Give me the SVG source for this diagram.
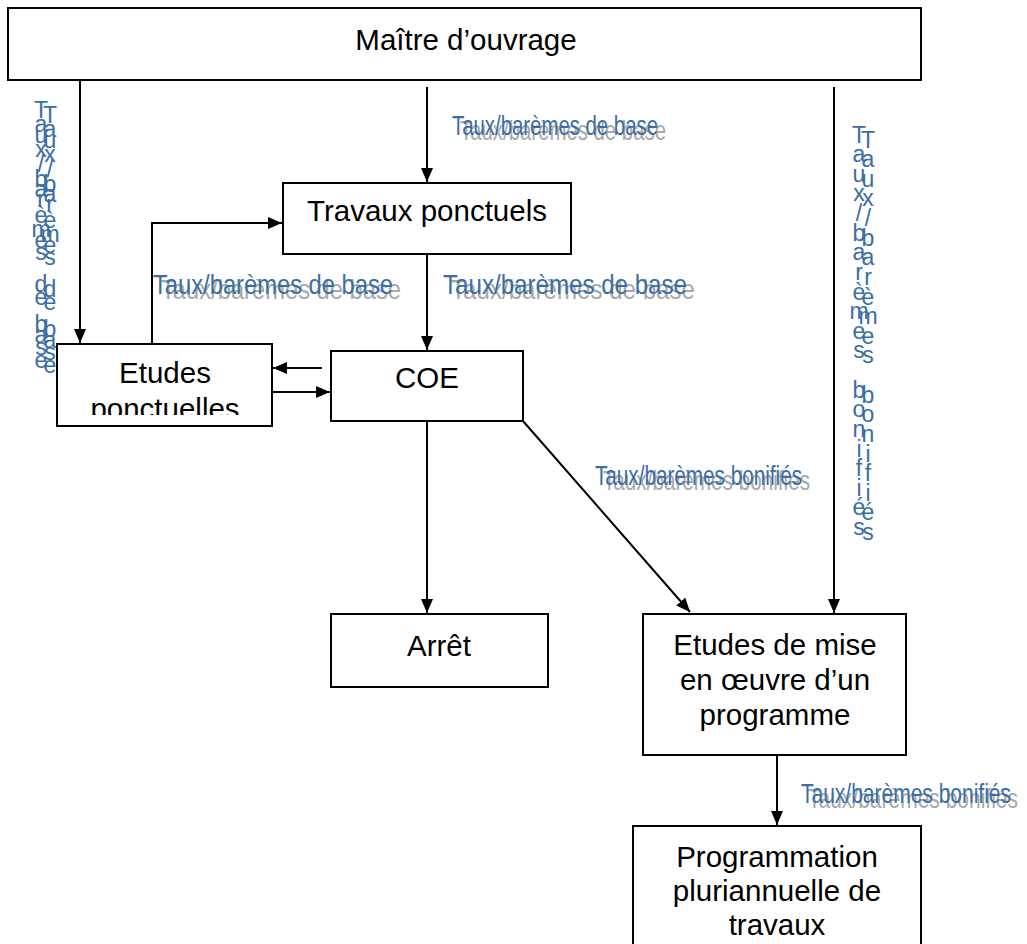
<svg xmlns="http://www.w3.org/2000/svg" width="1027" height="944" viewBox="0 0 1027 944">
<style>
.box{fill:#fff;stroke:#000;stroke-width:2}
.t{font-family:"Liberation Sans",Arial,sans-serif;font-size:29.5px;text-anchor:middle;fill:#000}
.lbl{font-family:"Liberation Sans",Arial,sans-serif;font-size:28px;fill:#3a6ea5}
.sh{fill:#a9a9a9}
.vl{font-family:"Liberation Sans",Arial,sans-serif;font-size:23px;text-anchor:middle;fill:#3a6ea5}
.conn line,.conn polyline{stroke:#000;stroke-width:2;fill:none}
</style>
<defs>
<marker id="ah" markerUnits="userSpaceOnUse" markerWidth="14" markerHeight="12" refX="14" refY="6" orient="auto">
<path d="M0,0 L14,6 L0,12 z" fill="#000"/>
</marker>
<clipPath id="clipEP"><rect x="57" y="345" width="215" height="70"/></clipPath>
</defs>
<rect width="1027" height="944" fill="#fff"/>

<g id="labels">
<text class="lbl sh" x="460" y="140" textLength="206" lengthAdjust="spacingAndGlyphs">Taux/barèmes de base</text>
<text class="lbl" x="452" y="135" textLength="206" lengthAdjust="spacingAndGlyphs">Taux/barèmes de base</text>
<text class="lbl sh" x="161" y="299" textLength="240" lengthAdjust="spacingAndGlyphs">Taux/barèmes de base</text>
<text class="lbl" x="153" y="294" textLength="240" lengthAdjust="spacingAndGlyphs">Taux/barèmes de base</text>
<text class="lbl sh" x="451" y="299" textLength="244" lengthAdjust="spacingAndGlyphs">Taux/barèmes de base</text>
<text class="lbl" x="443" y="294" textLength="244" lengthAdjust="spacingAndGlyphs">Taux/barèmes de base</text>
<text class="lbl sh" x="603" y="490" textLength="207" lengthAdjust="spacingAndGlyphs">Taux/barèmes bonifiés</text>
<text class="lbl" x="595" y="485" textLength="207" lengthAdjust="spacingAndGlyphs">Taux/barèmes bonifiés</text>
<text class="lbl sh" transform="translate(808,808) scale(0.75,1)" x="0" y="0">Taux/barèmes bonifiés</text>
<text class="lbl" transform="translate(801,803) scale(0.75,1)" x="0" y="0">Taux/barèmes bonifiés</text>

<text class="vl sh"><tspan x="50" y="123">T</tspan><tspan x="50" y="137">a</tspan><tspan x="50" y="148">u</tspan><tspan x="50" y="162">x</tspan><tspan x="50" y="177">/</tspan><tspan x="50" y="192">b</tspan><tspan x="50" y="202">a</tspan><tspan x="50" y="212">r</tspan><tspan x="50" y="228">è</tspan><tspan x="50" y="242">m</tspan><tspan x="50" y="253">e</tspan><tspan x="50" y="265">s</tspan><tspan x="50" y="297">d</tspan><tspan x="50" y="310">e</tspan><tspan x="50" y="337">b</tspan><tspan x="50" y="348">a</tspan><tspan x="50" y="360">s</tspan><tspan x="50" y="373">e</tspan></text>
<text class="vl"><tspan x="41" y="118">T</tspan><tspan x="41" y="132">a</tspan><tspan x="41" y="143">u</tspan><tspan x="41" y="157">x</tspan><tspan x="41" y="172">/</tspan><tspan x="41" y="187">b</tspan><tspan x="41" y="197">a</tspan><tspan x="41" y="207">r</tspan><tspan x="41" y="223">è</tspan><tspan x="41" y="237">m</tspan><tspan x="41" y="248">e</tspan><tspan x="41" y="260">s</tspan><tspan x="41" y="292">d</tspan><tspan x="41" y="305">e</tspan><tspan x="41" y="332">b</tspan><tspan x="41" y="343">a</tspan><tspan x="41" y="355">s</tspan><tspan x="41" y="368">e</tspan></text>

<text class="vl sh"><tspan x="868" y="148">T</tspan><tspan x="868" y="167">a</tspan><tspan x="868" y="187">u</tspan><tspan x="868" y="206">x</tspan><tspan x="868" y="226">/</tspan><tspan x="868" y="246">b</tspan><tspan x="868" y="265">a</tspan><tspan x="868" y="285">r</tspan><tspan x="868" y="305">è</tspan><tspan x="868" y="324">m</tspan><tspan x="868" y="344">e</tspan><tspan x="868" y="363">s</tspan><tspan x="868" y="403">b</tspan><tspan x="868" y="422">o</tspan><tspan x="868" y="442">n</tspan><tspan x="868" y="462">i</tspan><tspan x="868" y="481">f</tspan><tspan x="868" y="501">i</tspan><tspan x="868" y="520">é</tspan><tspan x="868" y="540">s</tspan></text>
<text class="vl"><tspan x="859" y="143">T</tspan><tspan x="859" y="162">a</tspan><tspan x="859" y="182">u</tspan><tspan x="859" y="201">x</tspan><tspan x="859" y="221">/</tspan><tspan x="859" y="241">b</tspan><tspan x="859" y="260">a</tspan><tspan x="859" y="280">r</tspan><tspan x="859" y="300">è</tspan><tspan x="859" y="319">m</tspan><tspan x="859" y="339">e</tspan><tspan x="859" y="358">s</tspan><tspan x="859" y="398">b</tspan><tspan x="859" y="417">o</tspan><tspan x="859" y="437">n</tspan><tspan x="859" y="457">i</tspan><tspan x="859" y="476">f</tspan><tspan x="859" y="496">i</tspan><tspan x="859" y="515">é</tspan><tspan x="859" y="535">s</tspan></text>
</g>

<g class="conn" id="connectors">
<line x1="80" y1="80" x2="80" y2="343" marker-end="url(#ah)"/>
<line x1="427" y1="87" x2="427" y2="182" marker-end="url(#ah)"/>
<line x1="834" y1="87" x2="834" y2="613" marker-end="url(#ah)"/>
<polyline points="152,344 152,223 282,223" marker-end="url(#ah)"/>
<line x1="427" y1="255" x2="427" y2="350" marker-end="url(#ah)"/>
<line x1="322" y1="368" x2="273" y2="368" marker-end="url(#ah)"/>
<line x1="273" y1="392" x2="330" y2="392" marker-end="url(#ah)"/>
<line x1="427" y1="422" x2="427" y2="613" marker-end="url(#ah)"/>
<line x1="523" y1="421" x2="690" y2="612" marker-end="url(#ah)"/>
<line x1="777" y1="755" x2="777" y2="825" marker-end="url(#ah)"/>
</g>

<g id="n-maitre">
<rect class="box" x="8" y="8" width="913" height="72"/>
<text class="t" x="466" y="50">Maître d’ouvrage</text>
</g>
<g id="n-travaux">
<rect class="box" x="283" y="183" width="288" height="71"/>
<text class="t" x="427" y="221">Travaux ponctuels</text>
</g>
<g id="n-etudes">
<rect class="box" x="57" y="344" width="215" height="82"/>
<text class="t" clip-path="url(#clipEP)"><tspan x="165" y="383">Etudes</tspan><tspan x="165" y="419">ponctuelles</tspan></text>
</g>
<g id="n-coe">
<rect class="box" x="331" y="351" width="192" height="70"/>
<text class="t" x="427" y="388">COE</text>
</g>
<g id="n-arret">
<rect class="box" x="331" y="614" width="217" height="73"/>
<text class="t" x="439" y="656">Arrêt</text>
</g>
<g id="n-mise">
<rect class="box" x="643" y="614" width="263" height="141"/>
<text class="t"><tspan x="775" y="655">Etudes de mise</tspan><tspan x="775" y="690">en œuvre d’un</tspan><tspan x="775" y="725">programme</tspan></text>
</g>
<g id="n-prog">
<rect class="box" x="633" y="826" width="288" height="130"/>
<text class="t"><tspan x="777" y="867">Programmation</tspan><tspan x="777" y="901">pluriannuelle de</tspan><tspan x="777" y="935">travaux</tspan></text>
</g>
</svg>
